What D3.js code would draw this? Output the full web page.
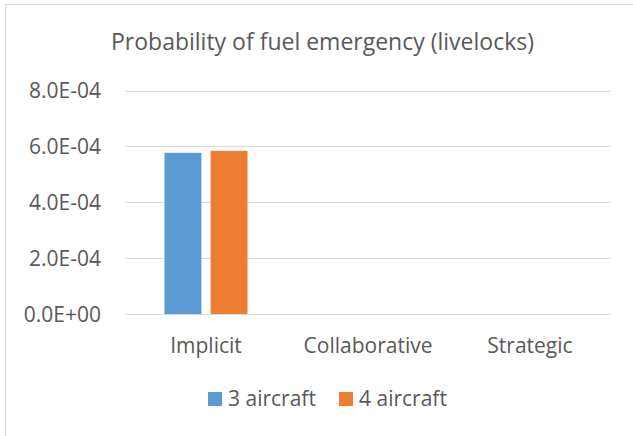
<!DOCTYPE html>
<html>
<head>
<meta charset="utf-8">
<script src="https://cdn.jsdelivr.net/npm/d3@7"></script>
<style>
  body { margin: 0; background: #fff; }
  svg text { font-family: "Open Sans", Lato, sans-serif; fill: #595959; }
</style>
</head>
<body>
<svg id="chart" width="633" height="436"></svg>
<script>
var categories = ['Implicit', 'Collaborative', 'Strategic'];
var seriesNames = ['3 aircraft', '4 aircraft'];
var aircraft3 = [5.77e-4, 0, 0];
var aircraft4 = [5.84e-4, 0, 0];
var yTicks = [0, 2e-4, 4e-4, 6e-4, 8e-4];
var colors = ['#5B9BD5', '#ED7D31'];

var series = [aircraft3, aircraft4];

var svg = d3.select('#chart');

// chart area border (only top and left visible in frame)
svg.append('rect')
    .attr('x', 5.5)
    .attr('y', 4.5)
    .attr('width', 700)
    .attr('height', 500)
    .attr('fill', 'none')
    .attr('stroke', '#D9D9D9');

var plotL = 125, plotR = 611, plotT = 90.5, plotB = 314;

var x = d3.scaleBand()
    .domain(categories)
    .range([plotL, plotR]);

var x1 = d3.scaleBand()
    .domain(d3.range(series.length))
    .range([0, 83])
    .paddingInner(0.2);

var y = d3.scaleLinear()
    .domain([0, 8e-4])
    .range([plotB, plotT]);

svg.append('text')
    .attr('x', 322.5)
    .attr('y', 50)
    .attr('text-anchor', 'middle')
    .style('font-size', '23px')
    .text('Probability of fuel emergency (livelocks)');

// gridlines
svg.selectAll('.grid')
    .data(yTicks)
    .enter()
    .append('line')
    .attr('x1', plotL)
    .attr('x2', plotR)
    .attr('y1', function (d) { return Math.round(y(d)) + 0.5; })
    .attr('y2', function (d) { return Math.round(y(d)) + 0.5; })
    .attr('stroke', '#D9D9D9')
    .attr('stroke-width', 1.2);

svg.selectAll('.ytick')
    .data(yTicks)
    .enter()
    .append('text')
    .attr('x', 101)
    .attr('y', function (d) { return y(d) + 7.5; })
    .attr('text-anchor', 'end')
    .style('font-size', '21px')
    .text(function (d) {
        return d.toExponential(1).toUpperCase().replace(/E([+-])(\d)$/, 'E$10$2');
    });

// bars
series.forEach(function (vals, s) {
    svg.selectAll('.bar' + s)
        .data(vals)
        .enter()
        .append('rect')
        .attr('x', function (d, i) {
            return x(categories[i]) + x.bandwidth() / 2 - 41.5 + x1(s);
        })
        .attr('width', x1.bandwidth())
        .attr('y', function (d) { return y(d); })
        .attr('height', function (d) { return plotB - y(d); })
        .attr('fill', colors[s]);
});

svg.selectAll('.xlabel')
    .data(categories)
    .enter()
    .append('text')
    .attr('x', function (d) { return x(d) + x.bandwidth() / 2; })
    .attr('y', 353)
    .attr('text-anchor', 'middle')
    .style('font-size', '21px')
    .text(function (d) { return d; });

// legend
var legendX = [208, 339];
seriesNames.forEach(function (name, s) {
    svg.append('rect')
        .attr('x', legendX[s])
        .attr('y', 392)
        .attr('width', 14)
        .attr('height', 14)
        .attr('fill', colors[s]);
    svg.append('text')
        .attr('x', legendX[s] + 20)
        .attr('y', 406)
        .style('font-size', '21px')
        .text(name);
});
</script>
</body>
</html>
